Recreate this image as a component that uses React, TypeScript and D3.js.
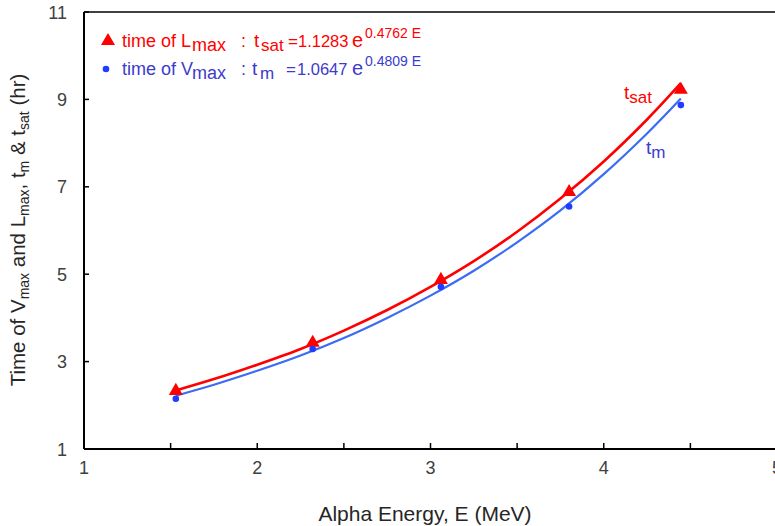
import React from "react";
import * as d3 from "d3";

// Measured data points (Alpha energy, MeV)
const energies = [1.53, 2.32, 3.06, 3.8, 4.445];
const timeLmax = [2.33, 3.43, 4.87, 6.88, 9.22];
const timeVmax = [2.15, 3.29, 4.71, 6.55, 8.87];

// Fitted trend curves
const curveE = [1.53, 1.75, 2.0, 2.25, 2.5, 2.75, 3.0, 3.25, 3.5, 3.75, 4.0, 4.25, 4.445];
const curveSat = [2.34, 2.6, 2.93, 3.29, 3.71, 4.18, 4.71, 5.3, 5.97, 6.73, 7.58, 8.54, 9.37];
const curveM = [2.22, 2.47, 2.79, 3.14, 3.54, 4.0, 4.51, 5.08, 5.73, 6.46, 7.29, 8.22, 9.02];

const xTicks = [1, 1.5, 2, 2.5, 3, 3.5, 4, 4.5, 5];
const xTickLabels = [1, 2, 3, 4, 5];
const yTicks = [1, 3, 5, 7, 9, 11];

const W = 775;
const H = 526;
const FONT = "Liberation Sans, Arial, sans-serif";
const RED = "#ff0000";
const BLUE_LINE = "#3a6cf4";
const BLUE_DOT = "#1f3cff";
const BLUE_TEXT = "#3b3bcc";

export default function App() {
  const x = d3.scaleLinear().domain([1, 5]).range([84, 777]);
  const y = d3.scaleLinear().domain([1, 11]).range([449, 12]);
  const line = d3
    .line<number>()
    .x((_, i) => x(curveE[i]))
    .y((d) => y(d))
    .curve(d3.curveCatmullRom);
  const tri = d3.symbol().type(d3.symbolTriangle).size(85)() as string;

  return (
    <svg
      width={W}
      height={H}
      style={{ position: "absolute", left: 0, top: 0, background: "#fff" }}
      fontFamily={FONT}
    >
      {/* frame */}
      <line x1={x(1)} x2={x(5)} y1={y(11)} y2={y(11)} stroke="#000" strokeWidth={1.5} />
      <line x1={x(1)} x2={x(1)} y1={y(11)} y2={y(1)} stroke="#000" strokeWidth={2} />
      <line x1={x(1)} x2={x(5)} y1={y(1)} y2={y(1)} stroke="#000" strokeWidth={2} />
      {xTicks.map((t) => (
        <line key={"xt" + t} x1={x(t)} x2={x(t)} y1={y(1)} y2={y(1) - 6} stroke="#000" strokeWidth={1.5} />
      ))}
      {yTicks.map((t) => (
        <line key={"yt" + t} x1={x(1)} x2={x(1) + 5} y1={y(t)} y2={y(t)} stroke="#000" strokeWidth={1.5} />
      ))}
      {xTickLabels.map((t) => (
        <text key={"xl" + t} x={x(t)} y={474} textAnchor="middle" fontSize={18} fill="#404040">
          {t}
        </text>
      ))}
      {yTicks.map((t) => (
        <text key={"yl" + t} x={67} y={y(t) + 6.5} textAnchor="end" fontSize={18} fill="#404040">
          {t}
        </text>
      ))}

      {/* axis titles */}
      <text x={425} y={521} textAnchor="middle" fontSize={21} fill="#262626">
        Alpha Energy, E (MeV)
      </text>
      <text transform="translate(25,230) rotate(-90)" textAnchor="middle" fontSize={20.5} fill="#262626">
        Time of V<tspan fontSize={14} dy={4}>max</tspan>
        <tspan dy={-4}> and L</tspan>
        <tspan fontSize={14} dy={4}>max</tspan>
        <tspan dy={-4}>, t</tspan>
        <tspan fontSize={14} dy={4}>m</tspan>
        <tspan dy={-4}> &amp; t</tspan>
        <tspan fontSize={14} dy={4}>sat</tspan>
        <tspan dy={-4}> (hr)</tspan>
      </text>

      {/* curves */}
      <path d={line(curveSat) as string} fill="none" stroke={RED} strokeWidth={2.6} />
      <path d={line(curveM) as string} fill="none" stroke={BLUE_LINE} strokeWidth={2.2} />

      {/* points */}
      {energies.map((e, i) => (
        <path key={"r" + i} d={tri} transform={`translate(${x(e)},${y(timeLmax[i])})`} fill={RED} />
      ))}
      {energies.map((e, i) => (
        <circle key={"b" + i} cx={x(e)} cy={y(timeVmax[i])} r={3.3} fill={BLUE_DOT} />
      ))}

      {/* curve labels */}
      <text x={624} y={99} fontSize={19} fill={RED}>
        t<tspan fontSize={17} dy={4}>sat</tspan>
      </text>
      <text x={646} y={154} fontSize={19} fill={BLUE_TEXT}>
        t<tspan fontSize={17} dy={4}>m</tspan>
      </text>

      {/* legend */}
      <path d={tri} transform="translate(108,41)" fill={RED} />
      <text y={47} fill={RED} fontSize={18}>
        <tspan x={122}>time of L</tspan>
        <tspan x={192} dy={4} fontSize={18}>max</tspan>
        <tspan x={241} dy={-4}>:</tspan>
        <tspan x={254} fontSize={19}>t</tspan>
        <tspan x={261} dy={4} fontSize={17}>sat</tspan>
        <tspan x={288} dy={-4} fontSize={17}>=</tspan>
        <tspan x={298} fontSize={16.5}>1.1283</tspan>
        <tspan x={352} fontSize={20}>e</tspan>
        <tspan x={365} dy={-9} fontSize={14}>0.4762 E</tspan>
      </text>
      <circle cx={106} cy={69} r={3.3} fill={BLUE_DOT} />
      <text y={75} fill={BLUE_TEXT} fontSize={18}>
        <tspan x={122}>time of V</tspan>
        <tspan x={192} dy={4} fontSize={18}>max</tspan>
        <tspan x={241} dy={-4}>:</tspan>
        <tspan x={252} fontSize={19}>t</tspan>
        <tspan x={260} dy={4} fontSize={17}>m</tspan>
        <tspan x={286} dy={-4} fontSize={17}>=</tspan>
        <tspan x={297} fontSize={16.5}>1.0647</tspan>
        <tspan x={352} fontSize={20}>e</tspan>
        <tspan x={365} dy={-9} fontSize={14}>0.4809 E</tspan>
      </text>
    </svg>
  );
}
